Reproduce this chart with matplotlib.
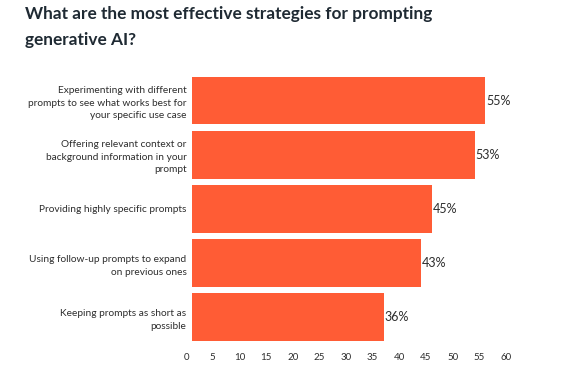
import matplotlib
matplotlib.use('Agg')
import matplotlib.pyplot as plt
import matplotlib.transforms as mtrans

title = "What are the most effective strategies for prompting\ngenerative AI?"
labels = ["Experimenting with different\nprompts to see what works best for\nyour specific use case",
          "Offering relevant context or\nbackground information in your\nprompt",
          "Providing highly specific prompts",
          "Using follow-up prompts to expand\non previous ones",
          "Keeping prompts as short as\npossible"]
values = [55, 53, 45, 43, 36]
ticks = [0, 5, 10, 15, 20, 25, 30, 35, 40, 45, 50, 55, 60]

bar_col = '#FF5C35'
txt_col = '#2d2d2d'

plt.rcParams['font.family'] = ['Lato', 'DejaVu Sans']

W, H = 570, 369
fig = plt.figure(figsize=(W/100, H/100), dpi=100)
ax = fig.add_axes([192/W, (H-341)/H, 320/W, (341-76.7)/H])

pos = list(range(len(values)))
ax.barh(pos, values, height=0.88, color=bar_col)
ax.set_xlim(0, 60)
ax.set_ylim(len(values)-0.56, -0.44)

for p, v in zip(pos, values):
    ax.text(v + 0.1, p, f"{v}%", va='center', ha='left', fontsize=9, color=txt_col)

ax.set_yticks(pos)
ax.set_yticklabels(labels, fontsize=7.3, color=txt_col, linespacing=1.5)
ax.tick_params(axis='y', length=0, pad=4)
ax.set_xticks(ticks)
ax.set_xticklabels([str(t) for t in ticks], fontsize=7, color=txt_col)
ax.tick_params(axis='x', length=0, pad=9)
shift = mtrans.ScaledTranslation(-0.06, 0, fig.dpi_scale_trans)
for lb in ax.get_xticklabels():
    lb.set_transform(lb.get_transform() + shift)
for lb in ax.get_yticklabels():
    lb.set_horizontalalignment('right')
    lb.set_multialignment('right')

for s in ax.spines.values():
    s.set_visible(False)

fig.text(25/W, 1 - 6/H, title, fontsize=12.4, fontweight='bold', color='#1f2a33',
         va='top', ha='left', linespacing=1.75)

fig.savefig('out.png', dpi=100, facecolor='white')
